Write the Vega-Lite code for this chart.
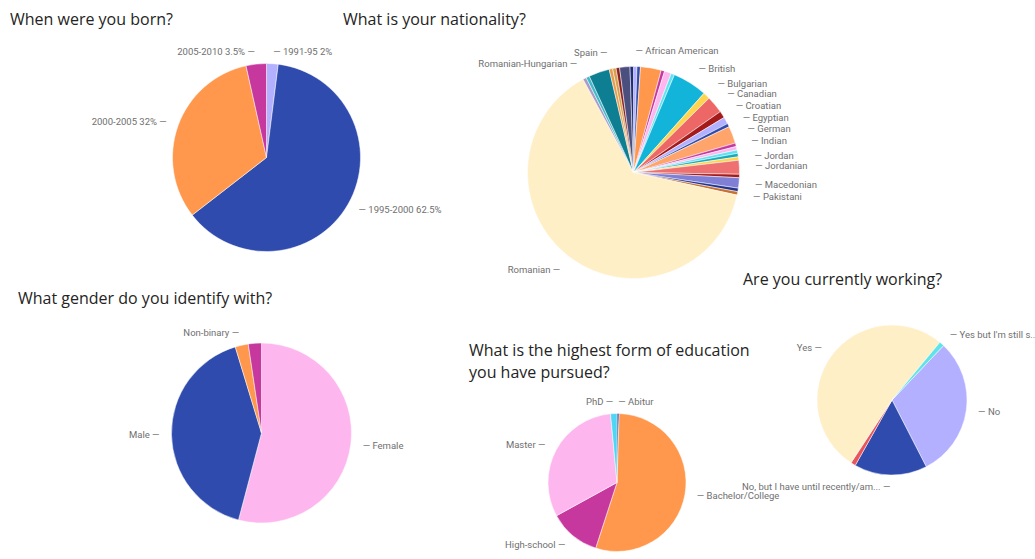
{
  "$schema": "https://vega.github.io/schema/vega-lite/v6.json",
  "padding": {"left": 10, "top": 11, "right": 0, "bottom": 0},
  "background": "white",
  "bounds": "flush",
  "spacing": 0,
  "columns": 3,
  "align": "none",
  "config": {
    "view": {"stroke": null},
    "title": {"font": "Open Sans", "fontSize": 16, "fontWeight": "normal", "color": "#252423", "anchor": "start", "baseline": "alphabetic", "offset": 5.5, "frame": "group", "lineHeight": 22},
    "text": {"font": "Roboto", "fontSize": 9.5, "color": "#6f6f6f", "baseline": "middle"},
    "arc": {"stroke": "white", "strokeWidth": 0.5}
  },
  "datasets": {
    "born": [
      {"name": "1991-95", "n": 2, "label": "1991-95 2%"},
      {"name": "1995-2000", "n": 62.5, "label": "1995-2000 62.5%"},
      {"name": "2000-2005", "n": 32, "label": "2000-2005 32%"},
      {"name": "2005-2010", "n": 3.5, "label": "2005-2010 3.5%"}
    ],
    "nationality": [
      {"name": "African American", "n": 1, "label": "African American"},
      {"name": "Albanian", "n": 1},
      {"name": "American", "n": 6},
      {"name": "Austrian", "n": 1},
      {"name": "Belgian", "n": 2},
      {"name": "Brazilian", "n": 1},
      {"name": "British", "n": 10, "label": "British"},
      {"name": "Bulgarian", "n": 2, "label": "Bulgarian"},
      {"name": "Canadian", "n": 5, "label": "Canadian"},
      {"name": "Croatian", "n": 2, "label": "Croatian"},
      {"name": "Czech", "n": 2},
      {"name": "Egyptian", "n": 1, "label": "Egyptian"},
      {"name": "German", "n": 5, "label": "German"},
      {"name": "Indian", "n": 1, "label": "Indian"},
      {"name": "Iraqi", "n": 1},
      {"name": "Italian", "n": 1},
      {"name": "Japanese", "n": 1},
      {"name": "Jordan", "n": 1, "label": "Jordan"},
      {"name": "Jordanian", "n": 4, "label": "Jordanian"},
      {"name": "Lebanese", "n": 1},
      {"name": "Macedonian", "n": 3, "label": "Macedonian"},
      {"name": "Moldovan", "n": 1},
      {"name": "Pakistani", "n": 1, "label": "Pakistani"},
      {"name": "Romanian", "n": 121, "label": "Romanian"},
      {"name": "Romanian-Hungarian", "n": 1, "label": "Romanian-Hungarian"},
      {"name": "Russian", "n": 1},
      {"name": "Serbian", "n": 6},
      {"name": "Spain", "n": 1, "label": "Spain"},
      {"name": "Swiss", "n": 1},
      {"name": "Syrian", "n": 1},
      {"name": "Turkish", "n": 3},
      {"name": "Ukrainian", "n": 1}
    ],
    "gender": [
      {"name": "Female", "n": 46, "label": "Female"},
      {"name": "Male", "n": 35, "label": "Male"},
      {"name": "Non-binary", "n": 2, "label": "Non-binary"},
      {"name": "Prefer not to say", "n": 2}
    ],
    "education": [
      {"name": "Abitur", "n": 1, "label": "Abitur"},
      {"name": "Bachelor/College", "n": 109, "label": "Bachelor/College"},
      {"name": "High-school", "n": 24, "label": "High-school"},
      {"name": "Master", "n": 63, "label": "Master"},
      {"name": "PhD", "n": 3, "label": "PhD"}
    ],
    "working": [
      {"name": "No", "n": 58, "label": "No"},
      {"name": "No, but I have until recently/am...", "n": 30, "label": "No, but I have until recently/am..."},
      {"name": "Other", "n": 2},
      {"name": "Yes", "n": 99, "label": "Yes"},
      {"name": "Yes but I'm still s...", "n": 2, "label": "Yes but I'm still s..."}
    ],
    "empty": []
  },
  "concat": [
    {
      "width": 513, "height": 249,
      "title": {"text": "When were you born?"},
      "data": {"name": "born"},
      "transform": [
        {"window": [{"op": "sum", "field": "n", "as": "cum"}], "sort": [{"field": "name"}], "frame": [null, 0]},
        {"joinaggregate": [{"op": "sum", "field": "n", "as": "total"}]},
        {"calculate": "sin(2*PI*(datum.cum - datum.n/2)/datum.total) > 0", "as": "right"},
        {"calculate": "datum.label && datum.right ? '\u2014 ' + datum.label : ''", "as": "rlab"},
        {"calculate": "datum.label && !datum.right ? datum.label + ' \u2014' : ''", "as": "llab"}
      ],
      "encoding": {
        "theta": {"field": "n", "type": "quantitative", "stack": true},
        "order": {"field": "name", "type": "nominal"}
      },
      "layer": [
        {"mark": {"type": "arc", "radius": 94},
         "encoding": {"color": {"field": "name", "type": "nominal", "legend": null,
           "scale": {"domain": ["1991-95", "1995-2000", "2000-2005", "2005-2010"], "range": ["#b3b0ff", "#2f4bad", "#ff984c", "#c7389e"]}}}},
        {"mark": {"type": "text", "radius": 106, "align": "left"}, "encoding": {"text": {"field": "rlab"}}},
        {"mark": {"type": "text", "radius": 106, "align": "right"}, "encoding": {"text": {"field": "llab"}}}
      ]
    },
    {
      "width": 221, "height": 279,
      "title": {"text": "What is your nationality?", "dx": -180},
      "data": {"name": "nationality"},
      "transform": [
        {"window": [{"op": "sum", "field": "n", "as": "cum"}], "sort": [{"field": "name"}], "frame": [null, 0]},
        {"joinaggregate": [{"op": "sum", "field": "n", "as": "total"}]},
        {"calculate": "sin(2*PI*(datum.cum - datum.n/2)/datum.total) > 0", "as": "right"},
        {"calculate": "datum.label && datum.right ? '\u2014 ' + datum.label : ''", "as": "rlab"},
        {"calculate": "datum.label && !datum.right ? datum.label + ' \u2014' : ''", "as": "llab"}
      ],
      "encoding": {
        "theta": {"field": "n", "type": "quantitative", "stack": true},
        "order": {"field": "name", "type": "nominal"}
      },
      "layer": [
        {"mark": {"type": "arc", "radius": 106},
         "encoding": {"color": {"field": "name", "type": "nominal", "legend": null,
           "scale": {
             "domain": ["African American", "Albanian", "American", "Austrian", "Belgian", "Brazilian", "British", "Bulgarian", "Canadian", "Croatian", "Czech", "Egyptian", "German", "Indian", "Iraqi", "Italian", "Japanese", "Jordan", "Jordanian", "Lebanese", "Macedonian", "Moldovan", "Pakistani", "Romanian", "Romanian-Hungarian", "Russian", "Serbian", "Spain", "Swiss", "Syrian", "Turkish", "Ukrainian"],
             "range": ["#b3b0ff", "#2f4bad", "#ff984c", "#c7389e", "#fdb7ee", "#5fe3f0", "#13b4d9", "#ffd550", "#ee6767", "#a51b1b", "#b3b0ff", "#2f4bad", "#ffa46b", "#c7389e", "#fdb7ee", "#5fe3f0", "#13a9bf", "#ffd550", "#ee7070", "#a51b1b", "#7f7fd6", "#22338e", "#c8702e", "#ffefc7", "#a99cc6", "#43b8c8", "#0e7f93", "#e99a4a", "#d4a04c", "#8e1f1f", "#4a4f7e", "#1f2d7a"]}}}},
        {"mark": {"type": "text", "radius": 122, "align": "left"}, "encoding": {"text": {"field": "rlab"}}},
        {"mark": {"type": "text", "radius": 122, "align": "right"}, "encoding": {"text": {"field": "llab"}}}
      ]
    },
    {
      "width": 1, "height": 279,
      "data": {"name": "empty"},
      "mark": "text"
    },
    {
      "width": 503, "height": 242,
      "title": {"text": "What gender do you identify with?", "dx": 8},
      "data": {"name": "gender"},
      "transform": [
        {"window": [{"op": "sum", "field": "n", "as": "cum"}], "sort": [{"field": "name"}], "frame": [null, 0]},
        {"joinaggregate": [{"op": "sum", "field": "n", "as": "total"}]},
        {"calculate": "sin(2*PI*(datum.cum - datum.n/2)/datum.total) > 0", "as": "right"},
        {"calculate": "datum.label && datum.right ? '\u2014 ' + datum.label : ''", "as": "rlab"},
        {"calculate": "datum.label && !datum.right ? datum.label + ' \u2014' : ''", "as": "llab"}
      ],
      "encoding": {
        "theta": {"field": "n", "type": "quantitative", "stack": true},
        "order": {"field": "name", "type": "nominal"}
      },
      "layer": [
        {"mark": {"type": "arc", "radius": 90},
         "encoding": {"color": {"field": "name", "type": "nominal", "legend": null,
           "scale": {"domain": ["Female", "Male", "Non-binary", "Prefer not to say"], "range": ["#fdb7ee", "#2f4bad", "#ff984c", "#c7389e"]}}}},
        {"mark": {"type": "text", "radius": 102, "align": "left"}, "encoding": {"text": {"field": "rlab"}}},
        {"mark": {"type": "text", "radius": 102, "align": "right"}, "encoding": {"text": {"field": "llab"}}}
      ]
    },
    {
      "width": 188, "height": 341,
      "title": {"text": ["What is the highest form of education", "you have pursued?"], "dx": -54, "dy": 74},
      "data": {"name": "education"},
      "transform": [
        {"window": [{"op": "sum", "field": "n", "as": "cum"}], "sort": [{"field": "name"}], "frame": [null, 0]},
        {"joinaggregate": [{"op": "sum", "field": "n", "as": "total"}]},
        {"calculate": "sin(2*PI*(datum.cum - datum.n/2)/datum.total) > 0", "as": "right"},
        {"calculate": "datum.label && datum.right ? '\u2014 ' + datum.label : ''", "as": "rlab"},
        {"calculate": "datum.label && !datum.right ? datum.label + ' \u2014' : ''", "as": "llab"}
      ],
      "encoding": {
        "theta": {"field": "n", "type": "quantitative", "stack": true},
        "order": {"field": "name", "type": "nominal"}
      },
      "layer": [
        {"mark": {"type": "arc", "radius": 69},
         "encoding": {"color": {"field": "name", "type": "nominal", "legend": null,
           "scale": {"domain": ["Abitur", "Bachelor/College", "High-school", "Master", "PhD"], "range": ["#2b3a9e", "#ff984c", "#c7389e", "#fdb7ee", "#4ed7f2"]}}}},
        {"mark": {"type": "text", "radius": 81, "align": "left"}, "encoding": {"text": {"field": "rlab"}}},
        {"mark": {"type": "text", "radius": 81, "align": "right"}, "encoding": {"text": {"field": "llab"}}}
      ]
    },
    {
      "width": 296, "height": 176,
      "title": {"text": "Are you currently working?", "dx": -1, "dy": -19},
      "data": {"name": "working"},
      "transform": [
        {"window": [{"op": "sum", "field": "n", "as": "cum"}], "sort": [{"field": "name"}], "frame": [null, 0]},
        {"joinaggregate": [{"op": "sum", "field": "n", "as": "total"}]},
        {"calculate": "sin(0.759 + 2*PI*(datum.cum - datum.n/2)/datum.total) > 0", "as": "right"},
        {"calculate": "datum.label && datum.right ? '\u2014 ' + datum.label : ''", "as": "rlab"},
        {"calculate": "datum.label && !datum.right ? datum.label + ' \u2014' : ''", "as": "llab"}
      ],
      "encoding": {
        "theta": {"field": "n", "type": "quantitative", "stack": true, "scale": {"range": [0.759, 7.042]}},
        "order": {"field": "name", "type": "nominal"}
      },
      "layer": [
        {"mark": {"type": "arc", "radius": 75},
         "encoding": {"color": {"field": "name", "type": "nominal", "legend": null,
           "scale": {"domain": ["No", "No, but I have until recently/am...", "Other", "Yes", "Yes but I'm still s..."], "range": ["#b3b0ff", "#2f4bad", "#e8555a", "#ffefc7", "#5fe3e8"]}}}},
        {"mark": {"type": "text", "radius": 87, "align": "left"}, "encoding": {"text": {"field": "rlab"}}},
        {"mark": {"type": "text", "radius": 87, "align": "right"}, "encoding": {"text": {"field": "llab"}}}
      ]
    }
  ],
  "resolve": {"scale": {"color": "independent", "theta": "independent"}}
}
